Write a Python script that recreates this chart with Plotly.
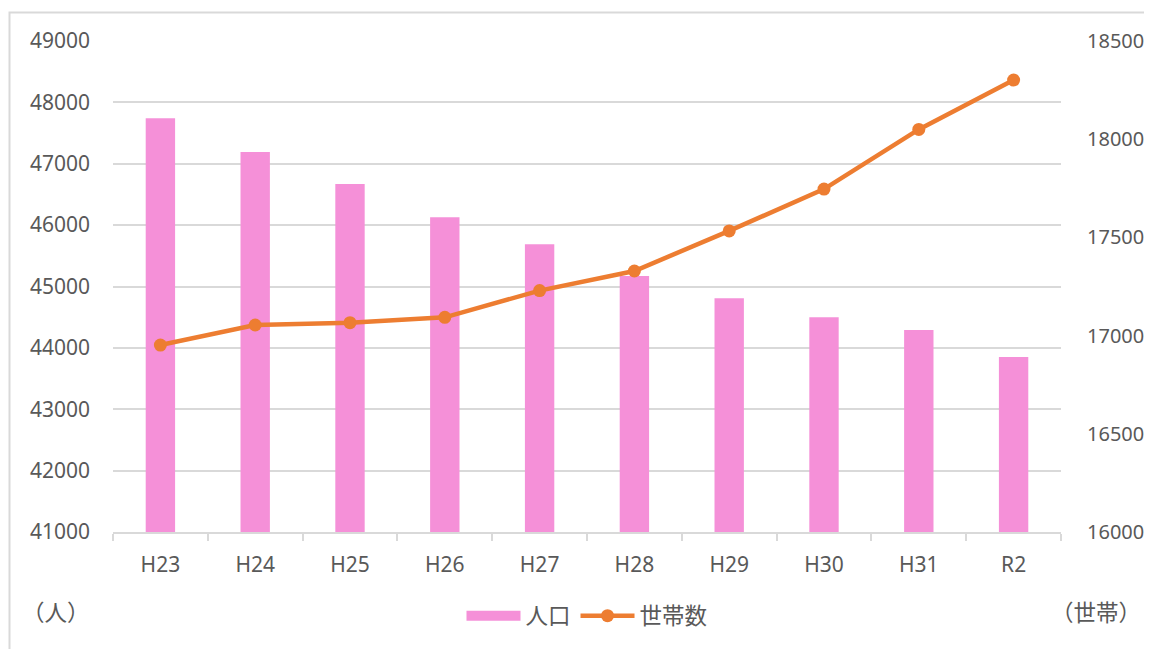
import plotly.graph_objects as go

categories = ["H23", "H24", "H25", "H26", "H27", "H28", "H29", "H30", "H31", "R2"]
population = [47740, 47190, 46670, 46130, 45690, 45170, 44810, 44500, 44290, 43850]
households = [16952, 17054, 17066, 17093, 17229, 17329, 17533, 17746, 18050, 18301]
left_ticks = list(range(41000, 49001, 1000))
right_ticks = list(range(16000, 18501, 500))

FONT = "Noto Sans, Noto Sans CJK JP, sans-serif"
GREY = "#595959"
PINK = "#F590D8"
ORANGE = "#ED7D31"

# page body has an 8px margin; work in figure coordinates
OX, OY = 8, 8
W, H = 1152 - OX, 649 - OY
L, T = 113 - OX, 41 - OY
PR, PB = 1061 - OX, 532 - OY
R, B = W - PR, H - PB
pw, ph = PR - L, PB - T


def px(xp):
    return (xp - OX - L) / pw


def py(yp):
    return (PB - (yp - OY)) / ph


fig = go.Figure()
fig.add_trace(go.Bar(
    x=categories, y=population, name="人口",
    marker=dict(color=PINK, line=dict(width=0)),
    width=0.31, yaxis="y", showlegend=False,
))
# legend entry for bars (wide rectangle look)
fig.add_trace(go.Scatter(
    x=[None], y=[None], name="人口", mode="lines",
    line=dict(color=PINK, width=13), yaxis="y", showlegend=True,
))
fig.add_trace(go.Scatter(
    x=categories, y=households, name="世帯数", mode="lines+markers",
    line=dict(color=ORANGE, width=4.5),
    marker=dict(color=ORANGE, size=13),
    yaxis="y2",
))

fig.update_layout(
    width=W, height=H,
    margin=dict(l=L, r=R, t=T, b=B, autoexpand=False),
    paper_bgcolor="white", plot_bgcolor="white",
    font=dict(family=FONT, size=21, color=GREY),
    showlegend=True,
    legend=dict(orientation="h", x=0.5, xanchor="center", y=py(616),
                yanchor="middle", font=dict(size=22.5, color=GREY),
                itemwidth=54, traceorder="normal"),
    xaxis=dict(
        type="category", categoryorder="array", categoryarray=categories,
        range=[-0.5, len(categories) - 0.5], autorange=False,
        showgrid=False, showline=True, linecolor="#d9d9d9",
        linewidth=2, ticks="outside", tickson="boundaries", ticklen=7,
        tickcolor="#d9d9d9", tickwidth=2, tickfont=dict(size=21, color=GREY),
        ticklabelstandoff=13,
    ),
    yaxis=dict(
        range=[41000, 49000], tickvals=left_ticks,
        ticktext=[str(v) for v in left_ticks], showgrid=True,
        gridcolor="#d9d9d9", gridwidth=2, zeroline=False, showline=False,
        tickfont=dict(size=21, color=GREY), ticklabelstandoff=22,
    ),
    yaxis2=dict(
        range=[16000, 18500], tickvals=right_ticks,
        ticktext=[str(v) for v in right_ticks], overlaying="y", side="right",
        showgrid=False, zeroline=False, showline=False,
        tickfont=dict(size=20, color=GREY), ticklabelstandoff=25,
    ),
    annotations=[
        dict(text="（人）", xref="paper", yref="paper", x=px(20), y=py(612),
             xanchor="left", yanchor="middle", showarrow=False, font=dict(size=22.5, color=GREY)),
        dict(text="（世帯）", xref="paper", yref="paper", x=px(1143), y=py(612),
             xanchor="right", yanchor="middle", showarrow=False, font=dict(size=22.5, color=GREY)),
    ],
    shapes=[
        dict(type="rect", xref="paper", yref="paper",
             x0=px(9.5), x1=px(1160), y0=py(660), y1=py(12.5),
             line=dict(color="#d9d9d9", width=2), fillcolor="rgba(0,0,0,0)", layer="below"),
    ],
)

fig.write_html("out.html")
